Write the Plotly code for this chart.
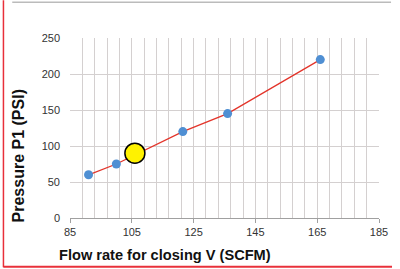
import plotly.graph_objects as go

# Data
flow = [91, 100, 121.5, 136, 166]
pressure = [60, 75, 120, 145, 220]
hl_flow = [106]
hl_pressure = [90]
x_ticks = [85, 105, 125, 145, 165, 185]
y_ticks = [0, 50, 100, 150, 200, 250]

W, H = 400, 269
L, R, T, B = 70, 385.7, 37.7, 217.7

def px(x):
    return (x - L) / (R - L)

def py(y):
    return (B - y) / (B - T)

grid = "#d4d0d0"
fig = go.Figure()
fig.add_trace(go.Scatter(x=flow, y=pressure, mode="lines+markers",
                         line=dict(color="#e3342a", width=1.3),
                         marker=dict(color="#4f8fd3", size=9),
                         showlegend=False, cliponaxis=False))
fig.add_trace(go.Scatter(x=hl_flow, y=hl_pressure, mode="markers",
                         marker=dict(color="#fff200", size=20, line=dict(color="black", width=1.5)),
                         showlegend=False, cliponaxis=False))

fig.update_layout(
    width=W, height=H,
    margin=dict(l=L, r=W - R, t=T, b=H - B, pad=0),
    paper_bgcolor="white", plot_bgcolor="white",
    font=dict(family="Liberation Sans, Arial", size=11, color="#333333"),
    xaxis=dict(range=[85, 185], tickvals=x_ticks, ticktext=[str(v) for v in x_ticks],
               showgrid=True, gridcolor=grid, gridwidth=1,
               minor=dict(dtick=4, tick0=85, showgrid=True, gridcolor=grid, gridwidth=1),
               ticks="outside", ticklen=4, tickcolor="#a0a0a0",
               showline=True, linecolor="#a0a0a0", linewidth=1, zeroline=False,
               tickfont=dict(size=11, color="#333333"), fixedrange=True),
    yaxis=dict(range=[0, 250], tickvals=y_ticks, ticktext=[str(v) for v in y_ticks],
               showgrid=True, gridcolor=grid, gridwidth=1, zeroline=False,
               showline=False, ticks="", ticklabelstandoff=9,
               tickfont=dict(size=11, color="#333333"), fixedrange=True),
    shapes=[
        dict(type="line", xref="paper", yref="paper", x0=px(2), x1=px(2), y0=py(0), y1=py(267),
             line=dict(color="#e8303a", width=1.5)),
        dict(type="line", xref="paper", yref="paper", x0=px(2), x1=px(399), y0=py(266.5), y1=py(266.5),
             line=dict(color="#e8303a", width=2)),
        dict(type="line", xref="paper", yref="paper", x0=px(11), x1=px(398), y0=py(2), y1=py(2),
             line=dict(color="#bbbbbb", width=1.5)),
    ],
    annotations=[
        dict(text="<b>Flow rate for closing V (SCFM)</b>", xref="paper", yref="paper",
             x=px(167), y=py(255), showarrow=False, xanchor="center", yanchor="middle",
             font=dict(size=14.6, color="#111111")),
        dict(text="<b>Pressure P1 (PSI)</b>", xref="paper", yref="paper",
             x=px(17), y=py(156), showarrow=False, xanchor="center", yanchor="middle",
             textangle=-90, font=dict(size=16, color="#111111")),
    ],
)
fig.write_html("out.html")
